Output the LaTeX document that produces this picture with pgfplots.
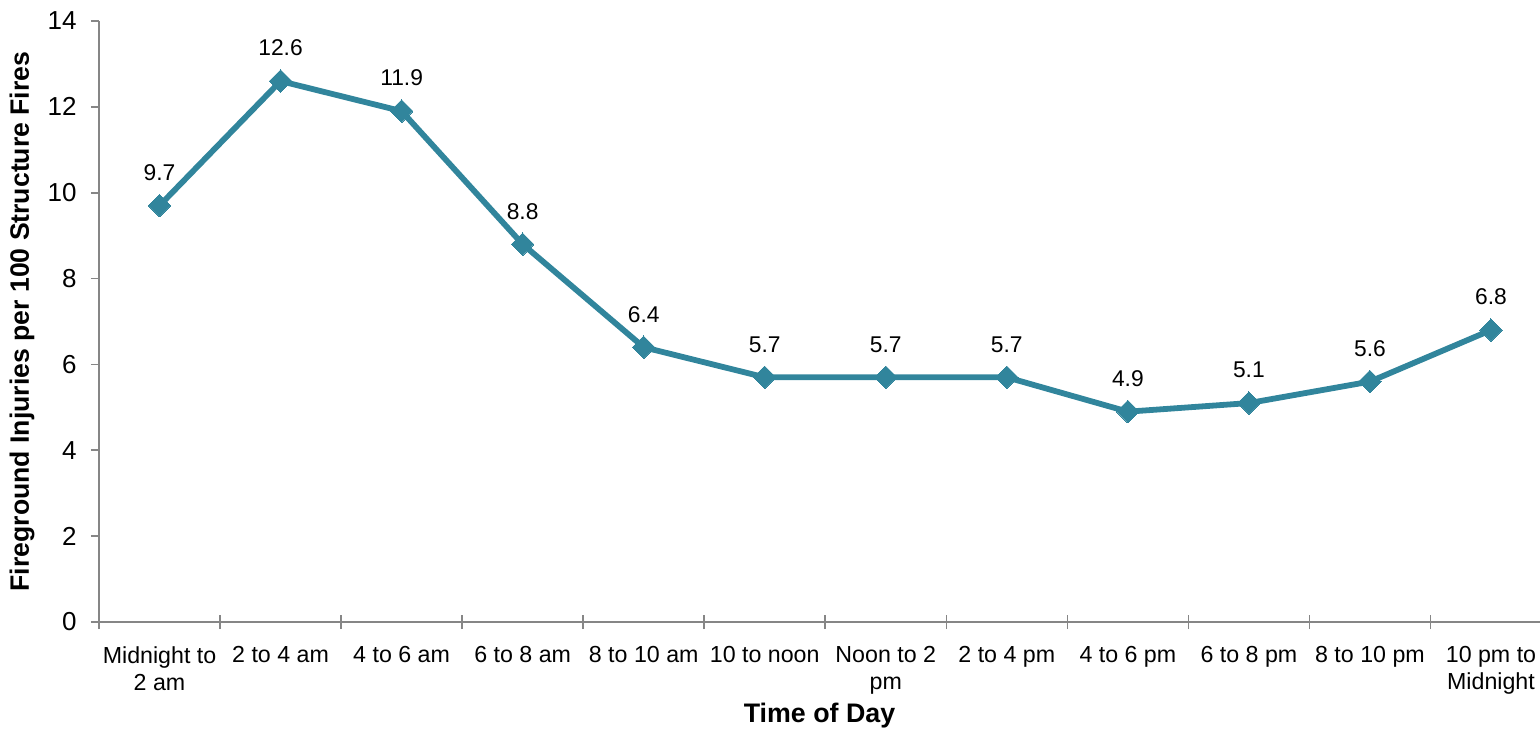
\documentclass[border=0pt]{standalone}
\usepackage{pgfplots}
\pgfplotsset{compat=1.18}
\usepackage{fontspec}
\setmainfont{Liberation Sans}
\definecolor{teal1}{RGB}{49,133,156}
\definecolor{axgray}{RGB}{134,134,134}
\begin{document}
\begin{tikzpicture}
\begin{axis}[name=ax, scale only axis, width=720.5pt, height=300.5pt,
  xmin=-0.5, xmax=11.405, ymin=0, ymax=14, ytick={0,2,...,14},
  /pgf/number format/assume math mode=true,
  font=\fontsize{11.6}{13.6}\selectfont,
  axis lines=left, axis line style={axgray, line width=0.8pt, -},
  every tick/.style={axgray, line width=0.8pt},
  ytick align=outside, major tick length=4pt,
  xtick={0,...,11},
  xticklabels={{Midnight to\\2 am},{2 to 4 am},{4 to 6 am},{6 to 8 am},{8 to 10 am},{10 to noon},{Noon to 2\\pm},{2 to 4 pm},{4 to 6 pm},{6 to 8 pm},{8 to 10 pm},{10 pm to\\Midnight}},
  xticklabel style={align=center, text=black, anchor=north, inner sep=0pt, yshift=-10pt},
  major x tick style={draw=none},
  extra x ticks={-0.5,0.5,...,10.5}, extra x tick labels={},
  extra x tick style={tick align=center, major tick length=7pt, major x tick style={draw=axgray}},
  yticklabel style={text=black, anchor=east, inner sep=0pt, xshift=-7pt, font=\fontsize{13}{15}\selectfont},
  xlabel={\textbf{Time of Day}}, ylabel={\textbf{Fireground Injuries per 100 Structure Fires}},
  xlabel style={anchor=center, at={(axis description cs:0.5,0)}, yshift=-47pt, font=\fontsize{13.4}{16}\selectfont},
  ylabel style={anchor=center, at={(axis description cs:0,0.5)}, xshift=0pt, yshift=38.5pt, font=\fontsize{13.3}{16}\selectfont},
  nodes near coords={\pgfmathprintnumber[fixed,precision=1,fixed zerofill]{\pgfplotspointmeta}},
  every node near coord/.append style={anchor=south, inner sep=0pt, yshift=12.5pt, text=black, font=\fontsize{11.4}{13.6}\selectfont},
  ]
\addplot[teal1, line width=2.9pt, mark=square*, mark size=4pt, mark options={rotate=45, fill=teal1, draw=teal1, line width=0pt}]
 coordinates {(0,9.7) (1,12.6) (2,11.9) (3,8.8) (4,6.4) (5,5.7) (6,5.7) (7,5.7) (8,4.9) (9,5.1) (10,5.6) (11,6.8)};
\end{axis}
\pgfresetboundingbox
\path[use as bounding box] ([shift={(-49.5pt,-54pt)}]ax.south west) rectangle ([shift={(0pt,10.5pt)}]ax.north east);
\end{tikzpicture}
\end{document}
